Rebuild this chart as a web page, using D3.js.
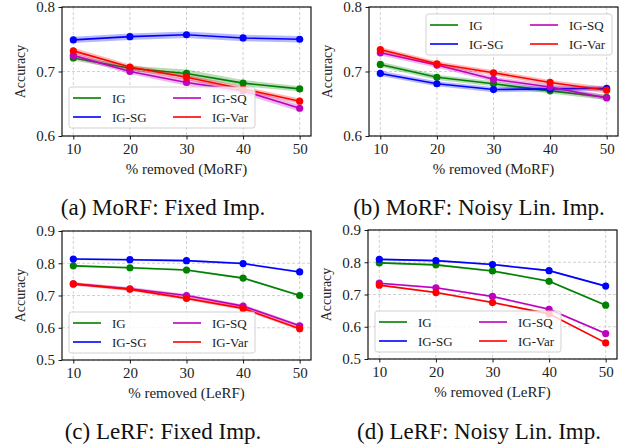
<!DOCTYPE html>
<html>
<head>
<meta charset="utf-8">
<script src="https://d3js.org/d3.v7.min.js"></script>
<style>
  body { margin: 0; background: #fff; }
  text { font-family: "Liberation Serif", "Times New Roman", serif; }
</style>
</head>
<body>
<div id="graph"></div>
<script>

// x values and series names
var removed = [10, 20, 30, 40, 50];
var methods = ["IG", "IG-SG", "IG-SQ", "IG-Var"];
var colors = ["#008000", "#0000ff", "#bf00bf", "#ff0000"];

// accuracy per method (IG, IG-SG, IG-SQ, IG-Var)
var morfFixed = [
  [0.721, 0.705, 0.697, 0.682, 0.673],
  [0.749, 0.754, 0.757, 0.752, 0.750],
  [0.725, 0.700, 0.683, 0.670, 0.643],
  [0.732, 0.707, 0.691, 0.673, 0.654]
];
var morfFixedStd = [
  [0.004, 0.004, 0.006, 0.005, 0.004],
  [0.005, 0.005, 0.005, 0.005, 0.005],
  [0.004, 0.004, 0.005, 0.005, 0.005],
  [0.005, 0.004, 0.004, 0.004, 0.004]
];
var morfNoisy = [
  [0.711, 0.691, 0.681, 0.670, 0.660],
  [0.697, 0.681, 0.672, 0.673, 0.674],
  [0.729, 0.710, 0.688, 0.676, 0.659],
  [0.734, 0.712, 0.698, 0.683, 0.671]
];
var morfNoisyStd = [
  [0.004, 0.004, 0.004, 0.004, 0.004],
  [0.004, 0.004, 0.004, 0.004, 0.004],
  [0.004, 0.004, 0.004, 0.004, 0.004],
  [0.004, 0.004, 0.004, 0.004, 0.005]
];
var lerfFixed = [
  [0.792, 0.786, 0.779, 0.754, 0.700],
  [0.813, 0.811, 0.808, 0.799, 0.773],
  [0.736, 0.721, 0.700, 0.667, 0.606],
  [0.736, 0.719, 0.691, 0.660, 0.597]
];
var lerfFixedStd = [
  [0.003, 0.003, 0.003, 0.003, 0.003],
  [0.003, 0.003, 0.003, 0.003, 0.003],
  [0.005, 0.005, 0.005, 0.005, 0.005],
  [0.005, 0.005, 0.005, 0.005, 0.005]
];
var lerfNoisy = [
  [0.798, 0.792, 0.773, 0.741, 0.667],
  [0.809, 0.805, 0.793, 0.774, 0.726],
  [0.735, 0.721, 0.694, 0.654, 0.579],
  [0.729, 0.706, 0.675, 0.640, 0.550]
];
var lerfNoisyStd = [
  [0.003, 0.003, 0.003, 0.003, 0.003],
  [0.003, 0.003, 0.003, 0.003, 0.003],
  [0.003, 0.003, 0.003, 0.003, 0.003],
  [0.003, 0.003, 0.003, 0.003, 0.003]
];

var morfTicks = [0.6, 0.7, 0.8];
var lerfTicks = [0.5, 0.6, 0.7, 0.8, 0.9];

var panels = [
  {vals: morfFixed, std: morfFixedStd, ticks: morfTicks, dom: [0.6, 0.8], xlabel: "% removed (MoRF)",
   caption: "(a) MoRF: Fixed Imp.", left: 62, top: 7, capX: 163, capY: 215, legX: 69, legY: 87},
  {vals: morfNoisy, std: morfNoisyStd, ticks: morfTicks, dom: [0.6, 0.8], xlabel: "% removed (MoRF)",
   caption: "(b) MoRF: Noisy Lin. Imp.", left: 369, top: 7, capX: 479, capY: 215, legX: 426, legY: 14},
  {vals: lerfFixed, std: lerfFixedStd, ticks: lerfTicks, dom: [0.5, 0.9], xlabel: "% removed (LeRF)",
   caption: "(c) LeRF: Fixed Imp.", left: 62, top: 231, capX: 163, capY: 439, legX: 69, legY: 312},
  {vals: lerfNoisy, std: lerfNoisyStd, ticks: lerfTicks, dom: [0.5, 0.9], xlabel: "% removed (LeRF)",
   caption: "(d) LeRF: Noisy Lin. Imp.", left: 368, top: 230, capX: 479, capY: 439, legX: 375, legY: 311}
];

var W = 249, H = 129;

var svg = d3.select("#graph")
  .append("svg")
    .attr("width", 623)
    .attr("height", 446);

panels.forEach(function(p) {
  var g = svg.append("g")
    .attr("transform", "translate(" + p.left + "," + p.top + ")");

  var x = d3.scaleLinear().domain([8, 52]).range([0, W]);
  var y = d3.scaleLinear().domain(p.dom).range([H, 0]);

  // grid
  g.selectAll(".gx").data(removed).enter().append("line")
    .attr("x1", function(d) { return x(d); }).attr("x2", function(d) { return x(d); })
    .attr("y1", 0).attr("y2", H)
    .style("stroke", "#b0b0b0").style("stroke-width", 0.8)
    .style("stroke-dasharray", "3,2").style("opacity", 0.7);
  g.selectAll(".gy").data(p.ticks).enter().append("line")
    .attr("y1", function(d) { return y(d); }).attr("y2", function(d) { return y(d); })
    .attr("x1", 0).attr("x2", W)
    .style("stroke", "#b0b0b0").style("stroke-width", 0.8)
    .style("stroke-dasharray", "3,2").style("opacity", 0.7);

  // series
  var line = d3.line().x(function(d, i) { return x(removed[i]); }).y(function(d) { return y(d); });
  p.vals.forEach(function(v, k) {
    var area = d3.area()
      .x(function(d, i) { return x(removed[i]); })
      .y0(function(d, i) { return y(d - p.std[k][i]); })
      .y1(function(d, i) { return y(d + p.std[k][i]); });
    g.append("path").datum(v)
      .attr("d", area)
      .style("fill", colors[k]).style("opacity", 0.28);
    g.append("path").datum(v)
      .attr("d", line)
      .style("fill", "none").style("stroke", colors[k]).style("stroke-width", 1.6);
    g.selectAll(".pt" + k).data(v).enter().append("circle")
      .attr("cx", function(d, i) { return x(removed[i]); })
      .attr("cy", function(d) { return y(d); })
      .attr("r", 3.6)
      .style("fill", colors[k]);
  });

  // axes
  var xAxis = g.append("g").attr("transform", "translate(0," + H + ")")
    .call(d3.axisBottom(x).tickValues(removed).tickSize(3.5).tickPadding(3.5));
  var yAxis = g.append("g")
    .call(d3.axisLeft(y).tickValues(p.ticks).tickSize(3.5).tickPadding(3.5).tickFormat(d3.format(".1f")));
  [xAxis, yAxis].forEach(function(a) {
    a.attr("font-family", null);
    a.select(".domain").remove();
    a.selectAll("line").style("stroke", "#000").style("stroke-width", 0.9);
    a.selectAll("text").style("font-size", "15px").style("fill", "#222");
  });

  g.append("rect")
    .attr("width", W).attr("height", H)
    .style("fill", "none").style("stroke", "#000").style("stroke-width", 1.1);

  // labels
  g.append("text")
    .attr("x", W / 2).attr("y", H + 38)
    .style("text-anchor", "middle").style("font-size", "15px").style("fill", "#222")
    .text(p.xlabel);
  g.append("text")
    .attr("transform", "translate(-37," + (H / 2) + ") rotate(-90)")
    .style("text-anchor", "middle").style("font-size", "14px").style("fill", "#222")
    .text("Accuracy");

  // legend
  var lg = svg.append("g").attr("transform", "translate(" + p.legX + "," + p.legY + ")");
  lg.append("rect")
    .attr("width", 186).attr("height", 41).attr("rx", 2.5)
    .style("fill", "#fff").style("fill-opacity", 0.8)
    .style("stroke", "#cccccc").style("stroke-width", 0.9);
  methods.forEach(function(m, k) {
    var col = Math.floor(k / 2), row = k % 2;
    var lx = 4 + col * 100, ly = 11 + row * 19;
    lg.append("line")
      .attr("x1", lx).attr("x2", lx + 28).attr("y1", ly).attr("y2", ly)
      .style("stroke", colors[k]).style("stroke-width", 1.6);
    lg.append("text")
      .attr("x", lx + 39).attr("y", ly + 4.5)
      .style("font-size", "13px").style("fill", "#222")
      .text(m);
  });

  // caption
  svg.append("text")
    .attr("x", p.capX).attr("y", p.capY)
    .style("text-anchor", "middle").style("font-size", "23px").style("fill", "#111")
    .text(p.caption);
});

</script>
</body>
</html>
